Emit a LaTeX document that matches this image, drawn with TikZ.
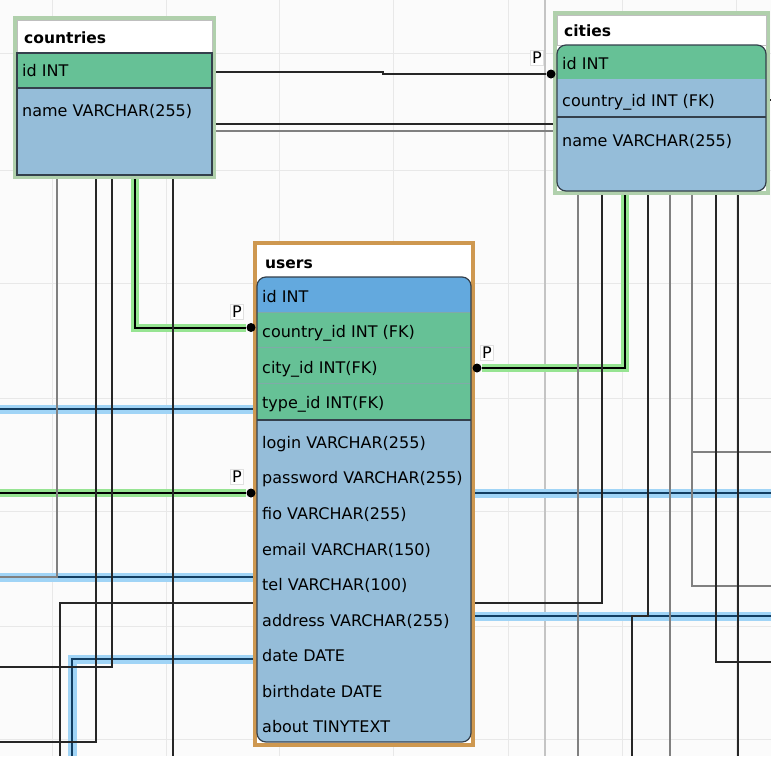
\documentclass[tikz,border=0pt]{standalone}
\usepackage{fontspec}
\setmainfont{DejaVu Sans}
\definecolor{bgc}{RGB}{251,251,251}
\definecolor{gridc}{RGB}{232,232,232}
\definecolor{gridd}{RGB}{196,196,196}
\definecolor{rowg}{RGB}{102,193,150}
\definecolor{rowb}{RGB}{149,189,217}
\definecolor{rowid}{RGB}{99,169,222}
\definecolor{edgec}{RGB}{52,64,76}
\definecolor{frameg}{RGB}{176,208,172}
\definecolor{frameo}{RGB}{206,152,80}
\definecolor{glowb}{RGB}{160,212,246}
\definecolor{coreb}{RGB}{18,62,98}
\definecolor{glowg}{RGB}{150,228,146}
\definecolor{sepg}{RGB}{128,170,168}
\pgfdeclarelayer{back}
\pgfdeclarelayer{lines}
\pgfsetlayers{back,lines,main}
\tikzset{
  gridline/.style={draw=gridc, line width=1pt},
  lk/.style={draw=black!85, line width=1.2pt},
  lg/.style={draw=black!50, line width=1.8pt},
  bconn/.style={draw=coreb, line width=2.4pt, preaction={draw=glowb, line width=9pt}},
  gconn/.style={draw=black, line width=2pt, preaction={draw=glowg, line width=8pt}},
  frameG/.style={draw=frameg, line width=3.6pt, fill=white, outer sep=0pt, inner sep=0pt, anchor=north west},
  frameO/.style={draw=frameo, line width=3.2pt, fill=white, outer sep=0pt, inner sep=0pt, anchor=north west},
  hdr/.style={draw=black!25, line width=0.8pt, fill=white},
  body/.style={draw=edgec, line width=1.2pt},
  fld/.style={anchor=base west, inner sep=0pt, font=\fontsize{16}{18}\selectfont},
  ttl/.style={anchor=base west, inner sep=0pt, font=\bfseries\fontsize{15.5}{18}\selectfont},
  plabel/.style={draw=black!12, fill=white, inner sep=1.5pt, font=\fontsize{16}{18}\selectfont},
  pdot/.style={circle, fill=black, inner sep=0pt, minimum size=9pt},
}
\begin{document}
\begin{tikzpicture}[x=1pt,y=-1pt]
\coordinate (L) at (0,0);
\coordinate (R) at (771,0);
\coordinate (B) at (0,756);

% ---------- countries ----------
\node[frameG, minimum width=199pt, minimum height=159pt] (countries) at (15,18) {};
\draw[hdr] (17,20) rectangle (212,53);
\fill[rowg] (17,53) rectangle (212,88);
\fill[rowb] (17,88) rectangle (212,175);
\draw[body] (17,53) rectangle (212,175);
\draw[body] (17,88) -- (212,88);
\node[ttl] (tcountries) at (24,43) {countries};
\node[fld] (cid) at (22,76) {id INT};
\node[fld] (cname) at (22,116.5) {name VARCHAR(255)};

% ---------- cities ----------
\node[frameG, minimum width=213pt, minimum height=180pt] (cities) at (555,13) {};
\draw[hdr] (557,15) rectangle (766,45);
\begin{scope}
  \clip[rounded corners=9pt] (557,45) rectangle (766,191);
  \fill[rowg] (557,45) rectangle (766,79);
  \fill[rowb] (557,79) rectangle (766,191);
\end{scope}
\draw[body] (557,117) -- (766,117);
\draw[body, rounded corners=9pt] (557,45) rectangle (766,191);
\node[ttl] (tcities) at (564,36.5) {cities};
\node[fld] (ciid) at (562,69.5) {id INT};
\node[fld] (cicountry) at (562,106) {country\_id INT (FK)};
\node[fld] (ciname) at (562,146.5) {name VARCHAR(255)};

% ---------- users ----------
\node[frameO, minimum width=218pt, minimum height=502pt] (users) at (255,243) {};
\begin{scope}
  \clip[rounded corners=9pt] (257,277) rectangle (471,742);
  \fill[rowid] (257,277) rectangle (471,312);
  \fill[rowg] (257,312) rectangle (471,420);
  \fill[rowb] (257,420) rectangle (471,742);
\end{scope}
\draw[sepg, line width=1pt] (257,312) -- (471,312);
\draw[sepg, line width=1pt] (257,347) -- (471,347);
\draw[sepg, line width=1pt] (257,383) -- (471,383);
\draw[body, line width=1.6pt] (257,420) -- (471,420);
\draw[body, rounded corners=9pt] (257,277) rectangle (471,742);
\node[ttl] (tusers) at (265,268) {users};
\node[fld] (u1) at (262,302) {id INT};
\node[fld] (u2) at (262,337.5) {country\_id INT (FK)};
\node[fld] (u3) at (262,373) {city\_id INT(FK)};
\node[fld] (u4) at (262,408.5) {type\_id INT(FK)};
\node[fld] (u5) at (262,448) {login VARCHAR(255)};
\node[fld] (u6) at (262,483.5) {password VARCHAR(255)};
\node[fld] (u7) at (262,519) {fio VARCHAR(255)};
\node[fld] (u8) at (262,555) {email VARCHAR(150)};
\node[fld] (u9) at (262,590) {tel VARCHAR(100)};
\node[fld] (u10) at (262,626) {address VARCHAR(255)};
\node[fld] (u11) at (262,661.5) {date DATE};
\node[fld] (u12) at (262,697) {birthdate DATE};
\node[fld] (u13) at (262,732.5) {about TINYTEXT};

% ---------- P markers ----------
\node[pdot] (d1) at (251,327.5) {};
\node[pdot] (d2) at (251,493) {};
\node[pdot] (d3) at (477,368) {};
\node[pdot] (d4) at (551,74) {};
\node[plabel] (p1) at (237,312) {P};
\node[plabel] (p2) at (237,477) {P};
\node[plabel] (p3) at (487,353) {P};
\node[plabel] (p4) at (537,58) {P};

% ---------- background & grid ----------
\begin{pgfonlayer}{back}
\fill[bgc] (0,0) rectangle (771,756);
\foreach \gx in {52,166,279,393,508,622,736} \draw[gridline] (\gx,0) -- (\gx,756);
\foreach \gy in {53,170,283,398,511,626,739} \draw[gridline] (0,\gy) -- (771,\gy);
\draw[draw=gridd, line width=1.4pt] (545,0) -- (545,756);
\end{pgfonlayer}

% ---------- connectors ----------
\begin{pgfonlayer}{lines}
% highlighted
\draw[gconn] (countries.south-|135,0) |- (d1);
\draw[gconn] (cities.south-|625,0) |- (d3);
\draw[gconn] (L|-0,493) -- (d2);
\draw[bconn] (L|-0,409) -- (users.west|-0,409);
\draw[bconn] (L|-0,577) -- (users.west|-0,577);
\draw[bconn] (users.west|-0,659) -| (B-|72,0);
\draw[bconn] (users.east|-0,493) -- (R|-0,493);
\draw[bconn] (users.east|-0,616) -- (R|-0,616);
% plain
\draw[lg] (countries.south-|57,0) |- (L|-0,577);
\draw[lk] (countries.south-|96,0) |- (L|-0,742);
\draw[lk] (countries.south-|112,0) |- (L|-0,667);
\draw[lk] (countries.south-|173,0) -- (B-|173,0);
\draw[lk] (users.west|-0,603) -| (B-|60,0);
\draw[lk] (countries.east|-0,72) -- (383,72) -- (383,74) -- (d4);
\draw[lk] (countries.east|-0,124) -- (cities.west|-0,124);
\draw[lg] (countries.east|-0,131) -- (cities.west|-0,131);
\draw[lk] (cities.east|-0,100) -- (R|-0,100);
\draw[lg] (cities.south-|578,0) -- (B-|578,0);
\draw[lk] (cities.south-|602,0) |- (users.east|-0,603);
\draw[lk] (cities.south-|648,0) -- (648,616) -- (632,616) -- (B-|632,0);
\draw[lg] (cities.south-|670,0) -- (B-|670,0);
\draw[lg] (cities.south-|692,0) |- (R|-0,452);
\draw[lg] (cities.south-|692,0) |- (R|-0,586);
\draw[lk] (cities.south-|716,0) |- (R|-0,662);
\draw[lk] (cities.south-|738,0) -- (B-|738,0);
\end{pgfonlayer}
\pgfresetboundingbox
\useasboundingbox (0,0) rectangle (771,756);
\end{tikzpicture}
\end{document}
